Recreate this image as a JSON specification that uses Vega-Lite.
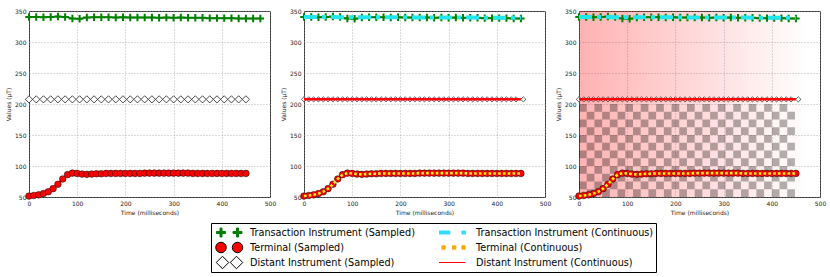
{
"$schema": "https://vega.github.io/schema/vega-lite/v6.json",
"padding": {"left": 5, "top": 7, "right": 5, "bottom": 5},
"spacing": 34,
"bounds": "flush",
"datasets": {
"tx": [{"t":0,"v":340.5},{"t":15,"v":340.5},{"t":30,"v":340},{"t":45,"v":340.5},{"t":60,"v":341},{"t":75,"v":340.5},{"t":90,"v":338},{"t":105,"v":337.5},{"t":120,"v":339.5},{"t":135,"v":340},{"t":150,"v":340},{"t":165,"v":340},{"t":180,"v":339.5},{"t":195,"v":340},{"t":210,"v":339.5},{"t":225,"v":339.5},{"t":240,"v":339.5},{"t":255,"v":339.5},{"t":270,"v":339},{"t":285,"v":339.5},{"t":300,"v":339},{"t":315,"v":339.5},{"t":330,"v":339},{"t":345,"v":339},{"t":360,"v":339},{"t":375,"v":338.5},{"t":390,"v":338.5},{"t":405,"v":338.5},{"t":420,"v":338.5},{"t":435,"v":338},{"t":450,"v":338},{"t":465,"v":338},{"t":480,"v":338}],
"txc": [{"t":0,"v":340.5},{"t":25,"v":340.5},{"t":50,"v":340.5},{"t":75,"v":340},{"t":100,"v":340},{"t":125,"v":340},{"t":150,"v":340},{"t":175,"v":340},{"t":200,"v":340},{"t":225,"v":339.5},{"t":250,"v":339.5},{"t":275,"v":339.5},{"t":300,"v":339.5},{"t":325,"v":339.5},{"t":350,"v":339.5},{"t":375,"v":339},{"t":400,"v":339},{"t":425,"v":339},{"t":450,"v":339}],
"term": [{"t":0,"v":51.5},{"t":10,"v":52.5},{"t":20,"v":53.5},{"t":30,"v":55.5},{"t":40,"v":58.5},{"t":50,"v":63.5},{"t":60,"v":70.5},{"t":70,"v":79},{"t":80,"v":86},{"t":90,"v":88.5},{"t":100,"v":88},{"t":110,"v":87},{"t":120,"v":86.5},{"t":130,"v":87},{"t":140,"v":87.5},{"t":150,"v":87.5},{"t":160,"v":88},{"t":170,"v":88},{"t":180,"v":88},{"t":190,"v":88},{"t":200,"v":88},{"t":210,"v":88},{"t":220,"v":88},{"t":230,"v":88},{"t":240,"v":88.5},{"t":250,"v":88.5},{"t":260,"v":88.5},{"t":270,"v":88.5},{"t":280,"v":88.5},{"t":290,"v":88.5},{"t":300,"v":88.5},{"t":310,"v":88.5},{"t":320,"v":88.5},{"t":330,"v":88.5},{"t":340,"v":88},{"t":350,"v":88},{"t":360,"v":88},{"t":370,"v":88},{"t":380,"v":88},{"t":390,"v":88},{"t":400,"v":88},{"t":410,"v":88},{"t":420,"v":88},{"t":430,"v":88},{"t":440,"v":88},{"t":450,"v":88}],
"dist": [{"t":0,"v":207.5},{"t":15,"v":207.5},{"t":30,"v":207.5},{"t":45,"v":207.5},{"t":60,"v":207.5},{"t":75,"v":207.5},{"t":90,"v":207.5},{"t":105,"v":207.5},{"t":120,"v":207.5},{"t":135,"v":207.5},{"t":150,"v":207.5},{"t":165,"v":207.5},{"t":180,"v":207.5},{"t":195,"v":207.5},{"t":210,"v":207.5},{"t":225,"v":207.5},{"t":240,"v":207.5},{"t":255,"v":207.5},{"t":270,"v":207.5},{"t":285,"v":207.5},{"t":300,"v":207.5},{"t":315,"v":207.5},{"t":330,"v":207.5},{"t":345,"v":207.5},{"t":360,"v":207.5},{"t":375,"v":207.5},{"t":390,"v":207.5},{"t":405,"v":207.5},{"t":420,"v":207.5},{"t":435,"v":207.5},{"t":450,"v":207.5}],
"dist10": [{"t":0,"v":207.5},{"t":10,"v":207.5},{"t":20,"v":207.5},{"t":30,"v":207.5},{"t":40,"v":207.5},{"t":50,"v":207.5},{"t":60,"v":207.5},{"t":70,"v":207.5},{"t":80,"v":207.5},{"t":90,"v":207.5},{"t":100,"v":207.5},{"t":110,"v":207.5},{"t":120,"v":207.5},{"t":130,"v":207.5},{"t":140,"v":207.5},{"t":150,"v":207.5},{"t":160,"v":207.5},{"t":170,"v":207.5},{"t":180,"v":207.5},{"t":190,"v":207.5},{"t":200,"v":207.5},{"t":210,"v":207.5},{"t":220,"v":207.5},{"t":230,"v":207.5},{"t":240,"v":207.5},{"t":250,"v":207.5},{"t":260,"v":207.5},{"t":270,"v":207.5},{"t":280,"v":207.5},{"t":290,"v":207.5},{"t":300,"v":207.5},{"t":310,"v":207.5},{"t":320,"v":207.5},{"t":330,"v":207.5},{"t":340,"v":207.5},{"t":350,"v":207.5},{"t":360,"v":207.5},{"t":370,"v":207.5},{"t":380,"v":207.5},{"t":390,"v":207.5},{"t":400,"v":207.5},{"t":410,"v":207.5},{"t":420,"v":207.5},{"t":430,"v":207.5},{"t":440,"v":207.5},{"t":455,"v":207.5}],
"distc": [{"t":0,"v":207.5},{"t":50,"v":207.5},{"t":100,"v":207.5},{"t":150,"v":207.5},{"t":200,"v":207.5},{"t":250,"v":207.5},{"t":300,"v":207.5},{"t":350,"v":207.5},{"t":400,"v":207.5},{"t":450,"v":207.5}],
"bg": [{"t":0,"t2":480,"v":50,"v2":350}],
"checker": [
{"t":16,"t2":32,"v":50,"v2":62.5},{"t":48,"t2":64,"v":50,"v2":62.5},{"t":80,"t2":96,"v":50,"v2":62.5},{"t":112,"t2":128,"v":50,"v2":62.5},{"t":144,"t2":160,"v":50,"v2":62.5},{"t":176,"t2":192,"v":50,"v2":62.5},{"t":208,"t2":224,"v":50,"v2":62.5},{"t":240,"t2":256,"v":50,"v2":62.5},{"t":272,"t2":288,"v":50,"v2":62.5},{"t":304,"t2":320,"v":50,"v2":62.5},{"t":336,"t2":352,"v":50,"v2":62.5},{"t":368,"t2":384,"v":50,"v2":62.5},{"t":400,"t2":416,"v":50,"v2":62.5},{"t":432,"t2":448,"v":50,"v2":62.5},
{"t":0,"t2":16,"v":62.5,"v2":75},{"t":32,"t2":48,"v":62.5,"v2":75},{"t":64,"t2":80,"v":62.5,"v2":75},{"t":96,"t2":112,"v":62.5,"v2":75},{"t":128,"t2":144,"v":62.5,"v2":75},{"t":160,"t2":176,"v":62.5,"v2":75},{"t":192,"t2":208,"v":62.5,"v2":75},{"t":224,"t2":240,"v":62.5,"v2":75},{"t":256,"t2":272,"v":62.5,"v2":75},{"t":288,"t2":304,"v":62.5,"v2":75},{"t":320,"t2":336,"v":62.5,"v2":75},{"t":352,"t2":368,"v":62.5,"v2":75},{"t":384,"t2":400,"v":62.5,"v2":75},{"t":416,"t2":432,"v":62.5,"v2":75},
{"t":16,"t2":32,"v":75,"v2":87.5},{"t":48,"t2":64,"v":75,"v2":87.5},{"t":80,"t2":96,"v":75,"v2":87.5},{"t":112,"t2":128,"v":75,"v2":87.5},{"t":144,"t2":160,"v":75,"v2":87.5},{"t":176,"t2":192,"v":75,"v2":87.5},{"t":208,"t2":224,"v":75,"v2":87.5},{"t":240,"t2":256,"v":75,"v2":87.5},{"t":272,"t2":288,"v":75,"v2":87.5},{"t":304,"t2":320,"v":75,"v2":87.5},{"t":336,"t2":352,"v":75,"v2":87.5},{"t":368,"t2":384,"v":75,"v2":87.5},{"t":400,"t2":416,"v":75,"v2":87.5},{"t":432,"t2":448,"v":75,"v2":87.5},
{"t":0,"t2":16,"v":87.5,"v2":100},{"t":32,"t2":48,"v":87.5,"v2":100},{"t":64,"t2":80,"v":87.5,"v2":100},{"t":96,"t2":112,"v":87.5,"v2":100},{"t":128,"t2":144,"v":87.5,"v2":100},{"t":160,"t2":176,"v":87.5,"v2":100},{"t":192,"t2":208,"v":87.5,"v2":100},{"t":224,"t2":240,"v":87.5,"v2":100},{"t":256,"t2":272,"v":87.5,"v2":100},{"t":288,"t2":304,"v":87.5,"v2":100},{"t":320,"t2":336,"v":87.5,"v2":100},{"t":352,"t2":368,"v":87.5,"v2":100},{"t":384,"t2":400,"v":87.5,"v2":100},{"t":416,"t2":432,"v":87.5,"v2":100},
{"t":16,"t2":32,"v":100,"v2":112.5},{"t":48,"t2":64,"v":100,"v2":112.5},{"t":80,"t2":96,"v":100,"v2":112.5},{"t":112,"t2":128,"v":100,"v2":112.5},{"t":144,"t2":160,"v":100,"v2":112.5},{"t":176,"t2":192,"v":100,"v2":112.5},{"t":208,"t2":224,"v":100,"v2":112.5},{"t":240,"t2":256,"v":100,"v2":112.5},{"t":272,"t2":288,"v":100,"v2":112.5},{"t":304,"t2":320,"v":100,"v2":112.5},{"t":336,"t2":352,"v":100,"v2":112.5},{"t":368,"t2":384,"v":100,"v2":112.5},{"t":400,"t2":416,"v":100,"v2":112.5},{"t":432,"t2":448,"v":100,"v2":112.5},
{"t":0,"t2":16,"v":112.5,"v2":125},{"t":32,"t2":48,"v":112.5,"v2":125},{"t":64,"t2":80,"v":112.5,"v2":125},{"t":96,"t2":112,"v":112.5,"v2":125},{"t":128,"t2":144,"v":112.5,"v2":125},{"t":160,"t2":176,"v":112.5,"v2":125},{"t":192,"t2":208,"v":112.5,"v2":125},{"t":224,"t2":240,"v":112.5,"v2":125},{"t":256,"t2":272,"v":112.5,"v2":125},{"t":288,"t2":304,"v":112.5,"v2":125},{"t":320,"t2":336,"v":112.5,"v2":125},{"t":352,"t2":368,"v":112.5,"v2":125},{"t":384,"t2":400,"v":112.5,"v2":125},{"t":416,"t2":432,"v":112.5,"v2":125},
{"t":16,"t2":32,"v":125,"v2":137.5},{"t":48,"t2":64,"v":125,"v2":137.5},{"t":80,"t2":96,"v":125,"v2":137.5},{"t":112,"t2":128,"v":125,"v2":137.5},{"t":144,"t2":160,"v":125,"v2":137.5},{"t":176,"t2":192,"v":125,"v2":137.5},{"t":208,"t2":224,"v":125,"v2":137.5},{"t":240,"t2":256,"v":125,"v2":137.5},{"t":272,"t2":288,"v":125,"v2":137.5},{"t":304,"t2":320,"v":125,"v2":137.5},{"t":336,"t2":352,"v":125,"v2":137.5},{"t":368,"t2":384,"v":125,"v2":137.5},{"t":400,"t2":416,"v":125,"v2":137.5},{"t":432,"t2":448,"v":125,"v2":137.5},
{"t":0,"t2":16,"v":137.5,"v2":150},{"t":32,"t2":48,"v":137.5,"v2":150},{"t":64,"t2":80,"v":137.5,"v2":150},{"t":96,"t2":112,"v":137.5,"v2":150},{"t":128,"t2":144,"v":137.5,"v2":150},{"t":160,"t2":176,"v":137.5,"v2":150},{"t":192,"t2":208,"v":137.5,"v2":150},{"t":224,"t2":240,"v":137.5,"v2":150},{"t":256,"t2":272,"v":137.5,"v2":150},{"t":288,"t2":304,"v":137.5,"v2":150},{"t":320,"t2":336,"v":137.5,"v2":150},{"t":352,"t2":368,"v":137.5,"v2":150},{"t":384,"t2":400,"v":137.5,"v2":150},{"t":416,"t2":432,"v":137.5,"v2":150},
{"t":16,"t2":32,"v":150,"v2":162.5},{"t":48,"t2":64,"v":150,"v2":162.5},{"t":80,"t2":96,"v":150,"v2":162.5},{"t":112,"t2":128,"v":150,"v2":162.5},{"t":144,"t2":160,"v":150,"v2":162.5},{"t":176,"t2":192,"v":150,"v2":162.5},{"t":208,"t2":224,"v":150,"v2":162.5},{"t":240,"t2":256,"v":150,"v2":162.5},{"t":272,"t2":288,"v":150,"v2":162.5},{"t":304,"t2":320,"v":150,"v2":162.5},{"t":336,"t2":352,"v":150,"v2":162.5},{"t":368,"t2":384,"v":150,"v2":162.5},{"t":400,"t2":416,"v":150,"v2":162.5},{"t":432,"t2":448,"v":150,"v2":162.5},
{"t":0,"t2":16,"v":162.5,"v2":175},{"t":32,"t2":48,"v":162.5,"v2":175},{"t":64,"t2":80,"v":162.5,"v2":175},{"t":96,"t2":112,"v":162.5,"v2":175},{"t":128,"t2":144,"v":162.5,"v2":175},{"t":160,"t2":176,"v":162.5,"v2":175},{"t":192,"t2":208,"v":162.5,"v2":175},{"t":224,"t2":240,"v":162.5,"v2":175},{"t":256,"t2":272,"v":162.5,"v2":175},{"t":288,"t2":304,"v":162.5,"v2":175},{"t":320,"t2":336,"v":162.5,"v2":175},{"t":352,"t2":368,"v":162.5,"v2":175},{"t":384,"t2":400,"v":162.5,"v2":175},{"t":416,"t2":432,"v":162.5,"v2":175},
{"t":16,"t2":32,"v":175,"v2":187.5},{"t":48,"t2":64,"v":175,"v2":187.5},{"t":80,"t2":96,"v":175,"v2":187.5},{"t":112,"t2":128,"v":175,"v2":187.5},{"t":144,"t2":160,"v":175,"v2":187.5},{"t":176,"t2":192,"v":175,"v2":187.5},{"t":208,"t2":224,"v":175,"v2":187.5},{"t":240,"t2":256,"v":175,"v2":187.5},{"t":272,"t2":288,"v":175,"v2":187.5},{"t":304,"t2":320,"v":175,"v2":187.5},{"t":336,"t2":352,"v":175,"v2":187.5},{"t":368,"t2":384,"v":175,"v2":187.5},{"t":400,"t2":416,"v":175,"v2":187.5},{"t":432,"t2":448,"v":175,"v2":187.5},
{"t":0,"t2":16,"v":187.5,"v2":200},{"t":32,"t2":48,"v":187.5,"v2":200},{"t":64,"t2":80,"v":187.5,"v2":200},{"t":96,"t2":112,"v":187.5,"v2":200},{"t":128,"t2":144,"v":187.5,"v2":200},{"t":160,"t2":176,"v":187.5,"v2":200},{"t":192,"t2":208,"v":187.5,"v2":200},{"t":224,"t2":240,"v":187.5,"v2":200},{"t":256,"t2":272,"v":187.5,"v2":200},{"t":288,"t2":304,"v":187.5,"v2":200},{"t":320,"t2":336,"v":187.5,"v2":200},{"t":352,"t2":368,"v":187.5,"v2":200},{"t":384,"t2":400,"v":187.5,"v2":200},{"t":416,"t2":432,"v":187.5,"v2":200}
],
"legend": [{"series":"Transaction Instrument (Sampled)"},{"series":"Terminal (Sampled)"},{"series":"Distant Instrument (Sampled)"},{"series":"Transaction Instrument (Continuous)"},{"series":"Terminal (Continuous)"},{"series":"Distant Instrument (Continuous)"}]
},
"hconcat": [
{
"width": 241, "height": 186,
"encoding": {
"x": {"field": "t", "type": "quantitative", "scale": {"domain": [0, 500], "nice": false, "zero": false}, "axis": {"title": "Time (milliseconds)", "values": [0,100,200,300,400,500]}},
"y": {"field": "v", "type": "quantitative", "scale": {"domain": [50, 350], "nice": false, "zero": false}, "axis": {"title": "Values (μT)", "values": [50,100,150,200,250,300,350]}}
},
"layer": [
{"data": {"name": "tx"}, "mark": {"type": "line", "color": "#008000", "strokeWidth": 1.5}, "encoding": {}},
{"data": {"name": "tx"}, "mark": {"type": "point", "shape": "M-1,0H1M0,-1V1", "filled": false, "stroke": "#008000", "strokeWidth": 2, "size": 56, "opacity": 1}, "encoding": {}},
{"data": {"name": "term"}, "mark": {"type": "line", "color": "#ff0000", "strokeWidth": 1.5}, "encoding": {}},
{"data": {"name": "term"}, "mark": {"type": "point", "shape": "circle", "filled": true, "fill": "#ff0000", "stroke": "#000000", "strokeWidth": 0.5, "size": 44, "opacity": 1}, "encoding": {}},
{"data": {"name": "dist"}, "mark": {"type": "point", "shape": "diamond", "filled": true, "fill": "#ffffff", "stroke": "#000000", "strokeWidth": 0.7, "size": 52, "opacity": 1}, "encoding": {}}
]
},
{
"width": 241, "height": 186,
"encoding": {
"x": {"field": "t", "type": "quantitative", "scale": {"domain": [0, 500], "nice": false, "zero": false}, "axis": {"title": "Time (milliseconds)", "values": [0,100,200,300,400,500]}},
"y": {"field": "v", "type": "quantitative", "scale": {"domain": [50, 350], "nice": false, "zero": false}, "axis": {"title": "Values (μT)", "values": [50,100,150,200,250,300,350]}}
},
"layer": [
{"data": {"name": "tx"}, "transform": [{"filter": "datum.t <= 450"}], "mark": {"type": "line", "color": "#008000", "strokeWidth": 1.5}, "encoding": {}},
{"data": {"name": "tx"}, "transform": [{"filter": "datum.t <= 450"}], "mark": {"type": "point", "shape": "M-1,0H1M0,-1V1", "filled": false, "stroke": "#008000", "strokeWidth": 2, "size": 56, "opacity": 1}, "encoding": {}},
{"data": {"name": "term"}, "mark": {"type": "line", "color": "#ff0000", "strokeWidth": 1.5}, "encoding": {}},
{"data": {"name": "term"}, "mark": {"type": "point", "shape": "circle", "filled": true, "fill": "#ff0000", "stroke": "#000000", "strokeWidth": 0.5, "size": 44, "opacity": 1}, "encoding": {}},
{"data": {"name": "dist10"}, "mark": {"type": "point", "shape": "diamond", "filled": true, "fill": "#ffffff", "stroke": "#000000", "strokeWidth": 0.6, "size": 28, "opacity": 1}, "encoding": {}},
{"data": {"name": "txc"}, "mark": {"type": "line", "color": "#22e6f0", "strokeWidth": 4, "strokeDash": [13, 5, 4, 5]}, "encoding": {}},
{"data": {"name": "term"}, "mark": {"type": "line", "color": "#ffee11", "strokeWidth": 2.6, "strokeDash": [2.6, 2.2]}, "encoding": {}},
{"data": {"name": "distc"}, "mark": {"type": "line", "color": "#ff0000", "strokeWidth": 2.5}, "encoding": {}},
{"data": {"name": "legend"}, "mark": {"type": "point", "filled": true, "opacity": 0},
 "encoding": {
  "x": {"value": 0}, "y": {"value": 0},
  "fill": {"field": "series", "type": "nominal",
   "scale": {"domain": ["Transaction Instrument (Sampled)","Terminal (Sampled)","Distant Instrument (Sampled)","Transaction Instrument (Continuous)","Terminal (Continuous)","Distant Instrument (Continuous)"],
             "range": ["#008000","#ff0000","#ffffff","#33ddff","#ffaa00","#ff0000"]},
   "legend": {"title": null, "orient": "none", "legendX": 182, "legendY": 212, "columns": 2, "symbolSize": 289, "clipHeight": 15, "rowPadding": 0, "columnPadding": 24, "labelOffset": 19, "labelFontSize": 9.7, "labelFont": "DejaVu Sans", "labelColor": "#000000", "labelLimit": 400, "strokeColor": "#000000", "fillColor": "#ffffff", "padding": 2, "symbolStrokeWidth": 1, "symbolOpacity": 1}},
  "stroke": {"field": "series", "type": "nominal",
   "scale": {"domain": ["Transaction Instrument (Sampled)","Terminal (Sampled)","Distant Instrument (Sampled)","Transaction Instrument (Continuous)","Terminal (Continuous)","Distant Instrument (Continuous)"],
             "range": ["#008000","#000000","#000000","#33ddff","#ffaa00","#ff0000"]},
   "legend": {"title": null, "orient": "none", "legendX": 182, "legendY": 212, "columns": 2, "symbolSize": 289, "clipHeight": 15, "rowPadding": 0, "columnPadding": 24, "labelOffset": 19, "labelFontSize": 9.7, "labelFont": "DejaVu Sans", "labelColor": "#000000", "labelLimit": 400, "strokeColor": "#000000", "fillColor": "#ffffff", "padding": 2, "symbolStrokeWidth": 1, "symbolOpacity": 1}},
  "shape": {"field": "series", "type": "nominal",
   "scale": {"domain": ["Transaction Instrument (Sampled)","Terminal (Sampled)","Distant Instrument (Sampled)","Transaction Instrument (Continuous)","Terminal (Continuous)","Distant Instrument (Continuous)"],
             "range": [
              "M-0.647,-0.118H-0.236V-0.529H0V-0.118H0.411V0.118H0V0.529H-0.236V0.118H-0.647ZM1.295,-0.118H1.706V-0.529H1.942V-0.118H2.353V0.118H1.942V0.529H1.706V0.118H1.295Z",
              "M-0.736,0A0.618,0.618,0,1,0,0.5,0A0.618,0.618,0,1,0,-0.736,0ZM1.206,0A0.618,0.618,0,1,0,2.442,0A0.618,0.618,0,1,0,1.206,0Z",
              "M-0.676,0L0.059,-0.735L0.794,0L0.059,0.735ZM0.971,0L1.706,-0.735L2.441,0L1.706,0.735Z",
              "M-2.012,-0.176H0.224V0.176H-2.012ZM1.635,-0.176H2.059V0.176H1.635Z",
              "M-2.012,-0.194H-1.624V0.194H-2.012ZM-0.718,-0.194H-0.329V0.194H-0.718ZM0.529,-0.194H0.918V0.194H0.529ZM1.635,-0.194H2.024V0.194H1.635Z",
              "M-2.07,0H2.047"]},
   "legend": {"title": null, "orient": "none", "legendX": 182, "legendY": 212, "columns": 2, "symbolSize": 289, "clipHeight": 15, "rowPadding": 0, "columnPadding": 24, "labelOffset": 19, "labelFontSize": 9.7, "labelFont": "DejaVu Sans", "labelColor": "#000000", "labelLimit": 400, "strokeColor": "#000000", "fillColor": "#ffffff", "padding": 2, "symbolStrokeWidth": 1, "symbolOpacity": 1}}
 }}
]
},
{
"width": 241, "height": 186,
"encoding": {
"x": {"field": "t", "type": "quantitative", "scale": {"domain": [0, 500], "nice": false, "zero": false}, "axis": {"title": "Time (milliseconds)", "values": [0,100,200,300,400,500]}},
"y": {"field": "v", "type": "quantitative", "scale": {"domain": [50, 350], "nice": false, "zero": false}, "axis": {"title": "Values (μT)", "values": [50,100,150,200,250,300,350]}}
},
"layer": [
{"data": {"name": "bg"}, "mark": {"type": "rect", "fill": {"gradient": "linear", "x1": 0, "x2": 1, "y1": 0, "y2": 0, "stops": [{"offset": 0, "color": "rgba(255,0,0,0.3)"}, {"offset": 1, "color": "rgba(255,0,0,0)"}]}}, "encoding": {"x2": {"field": "t2"}, "y2": {"field": "v2"}}},
{"data": {"name": "checker"}, "mark": {"type": "rect", "fill": "#000000", "fillOpacity": 0.3, "strokeWidth": 0}, "encoding": {"x2": {"field": "t2"}, "y2": {"field": "v2"}}},
{"data": {"name": "tx"}, "transform": [{"filter": "datum.t <= 450"}], "mark": {"type": "line", "color": "#008000", "strokeWidth": 1.5}, "encoding": {}},
{"data": {"name": "tx"}, "transform": [{"filter": "datum.t <= 450"}], "mark": {"type": "point", "shape": "M-1,0H1M0,-1V1", "filled": false, "stroke": "#008000", "strokeWidth": 2, "size": 56, "opacity": 1}, "encoding": {}},
{"data": {"name": "term"}, "mark": {"type": "line", "color": "#ff0000", "strokeWidth": 1.5}, "encoding": {}},
{"data": {"name": "term"}, "mark": {"type": "point", "shape": "circle", "filled": true, "fill": "#ff0000", "stroke": "#000000", "strokeWidth": 0.5, "size": 44, "opacity": 1}, "encoding": {}},
{"data": {"name": "dist10"}, "mark": {"type": "point", "shape": "diamond", "filled": true, "fill": "#ffffff", "stroke": "#000000", "strokeWidth": 0.6, "size": 28, "opacity": 1}, "encoding": {}},
{"data": {"name": "txc"}, "mark": {"type": "line", "color": "#22e6f0", "strokeWidth": 4, "strokeDash": [13, 5, 4, 5]}, "encoding": {}},
{"data": {"name": "term"}, "mark": {"type": "line", "color": "#ffee11", "strokeWidth": 2.6, "strokeDash": [2.6, 2.2]}, "encoding": {}},
{"data": {"name": "distc"}, "mark": {"type": "line", "color": "#ff0000", "strokeWidth": 2.5}, "encoding": {}}
]
}
],
"config": {
"font": "DejaVu Sans",
"view": {"stroke": "#333333", "strokeWidth": 1},
"axis": {"labelFont": "DejaVu Sans", "labelFontSize": 6, "titleFont": "DejaVu Sans", "titleFontSize": 6, "titleFontWeight": "normal", "labelColor": "#222222", "titleColor": "#222222", "domain": false, "ticks": false, "tickSize": 0, "labelPadding": 3, "titlePadding": 3, "gridColor": "#999999", "gridDash": [1, 2], "gridWidth": 0.7, "labelFlush": false, "labelOverlap": false}
}
}
